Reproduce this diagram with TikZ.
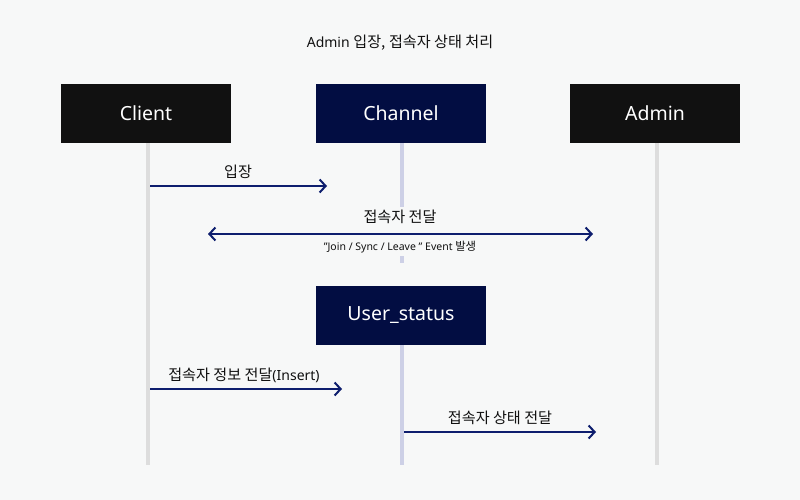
\documentclass[tikz,border=0pt]{standalone}
\usepackage{fontspec}
\setmainfont{Noto Sans}
\newfontfamily\kr[Scale=1.08]{Noto Sans CJK KR}
\newcommand{\hk}[1]{{\kr #1}}
\usetikzlibrary{arrows.meta}
\definecolor{bg}{HTML}{F7F8F8}
\definecolor{blk}{HTML}{111111}
\definecolor{navy}{HTML}{020D42}
\definecolor{arr}{HTML}{0E1E6E}
\definecolor{lgray}{HTML}{DDDDDD}
\definecolor{lnavy}{HTML}{CDD0E6}
\tikzset{
  actor/.style={minimum width=170pt,minimum height=59pt,inner sep=0pt,text=white,font=\fontsize{19.5}{22}\selectfont},
  life/.style={line width=4.5pt},
  msg/.style={draw=arr,line width=2pt,-{Straight Barb[length=6pt,width=13pt,line width=2pt]}},
  lbl/.style={font=\fontsize{14}{16}\selectfont,text=blk,inner sep=1pt},
  sublbl/.style={font=\fontsize{10.5}{12}\selectfont,text=blk,inner sep=1pt}
}
\begin{document}
\begin{tikzpicture}[x=1pt,y=-1pt]
\fill[bg] (0,0) rectangle (800,500);
\useasboundingbox (0,0) rectangle (800,500);
\node[lbl] (title) at (400,43) {Admin \hk{입장,} \hk{접속자 상태 처리}};
\node[actor,fill=blk] (client) at (146,113.5) {Client};
\node[actor,fill=navy] (channel) at (401,113.5) {Channel};
\node[actor,fill=blk] (admin) at (655,113.5) {Admin};
\node[actor,fill=navy] (status) at (401,315.5) {User\_status};
\coordinate (cl1) at (148,143); \coordinate (cl2) at (148,465);
\coordinate (ch1) at (402,143); \coordinate (ch2) at (402,263);
\coordinate (us2) at (402,465);
\coordinate (ad1) at (657,143); \coordinate (ad2) at (657,465);
\draw[life,lgray] (cl1) -- (cl2);
\draw[life,lgray] (ad1) -- (ad2);
\draw[life,lnavy] (ch1) -- (ch2);
\draw[life,lnavy] (status.south -| ch1) -- (us2);
% messages
\coordinate (m1a) at (150,186); \coordinate (m1b) at (327,186);
\draw[msg] (m1a) -- (m1b);
\node[lbl] (l1) at (238,172) {\hk{입장}};
\fill[bg] (330,207) rectangle (470,256);
\coordinate (m2a) at (208,234); \coordinate (m2b) at (593,234);
\draw[msg,{Straight Barb[length=6pt,width=13pt,line width=2pt]}-{Straight Barb[length=6pt,width=13pt,line width=2pt]}] (m2a) -- (m2b);
\node[lbl] (l2) at (400,217) {\hk{접속자 전달}};
\node[sublbl] (l2b) at (400,247) {\char`\"Join / Sync / Leave \char`\"\ Event \hk{발생}};
\coordinate (m3a) at (150,389); \coordinate (m3b) at (342,389);
\draw[msg] (m3a) -- (m3b);
\node[lbl] (l3) at (244,375) {\hk{접속자 정보 전달}(Insert)};
\coordinate (m4a) at (404,432); \coordinate (m4b) at (596,432);
\draw[msg] (m4a) -- (m4b);
\node[lbl] (l4) at (500,418) {\hk{접속자 상태 전달}};
\end{tikzpicture}
\end{document}
